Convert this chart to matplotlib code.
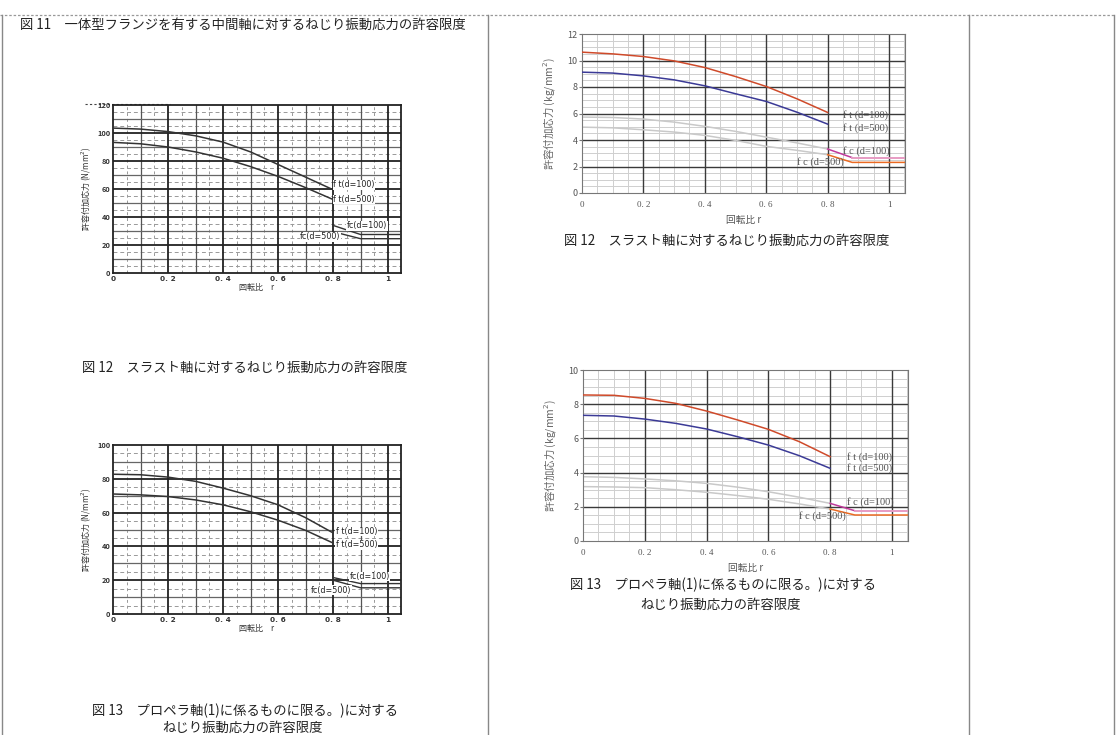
import numpy as np
import matplotlib.pyplot as plt

plt.rcParams['font.family'] = ['Noto Sans CJK JP', 'DejaVu Sans']

W, H = 1116, 735

# ---- data ----
r = [0, 0.1, 0.2, 0.3, 0.4, 0.5, 0.6, 0.7, 0.8]
r_tail_scan = [0.8, 0.9, 1.05]
r_tail = [0.8, 0.88, 1.05]

# left column, scanned 図11 (N/mm2)
s11_ft100 = [103.5, 102.8, 101, 98, 93.5, 86.5, 77.5, 68.5, 59.5]
s11_ft500 = [93.3, 92.3, 90, 86.5, 82, 76, 69, 61, 52.5]
s11_fc100 = [34, 27.5, 27.5]
s11_fc500 = [29.5, 24.5, 24.5]

# left column, scanned 図13 (N/mm2)
s13_ft100 = [82.7, 82.4, 81, 78.5, 74.5, 70, 64.6, 57, 48]
s13_ft500 = [71, 70.5, 69.5, 67.5, 64.6, 60.5, 55.5, 49.5, 42]
s13_fc100 = [21.6, 18, 18]
s13_fc500 = [20, 15.5, 15.5]

# right column, 図12 (kg/mm2)
r12_ft100 = [10.63, 10.5, 10.3, 9.97, 9.47, 8.79, 8.04, 7.11, 6.08]
r12_ft500 = [9.12, 9.05, 8.84, 8.54, 8.09, 7.49, 6.91, 6.10, 5.20]
r12_fc100 = [5.73, 5.7, 5.58, 5.35, 5.03, 4.65, 4.22, 3.78, 3.32]
r12_fc500 = [4.97, 4.92, 4.77, 4.6, 4.35, 3.97, 3.52, 3.22, 2.89]
r12_fc100_tail = [3.32, 2.67, 2.67]
r12_fc500_tail = [2.89, 2.31, 2.31]

# right column, 図13 (kg/mm2)
r13_ft100 = [8.54, 8.52, 8.34, 8.05, 7.6, 7.08, 6.53, 5.81, 4.93]
r13_ft500 = [7.35, 7.31, 7.13, 6.88, 6.55, 6.1, 5.61, 4.99, 4.25]
r13_fc100 = [3.76, 3.72, 3.63, 3.52, 3.37, 3.15, 2.88, 2.56, 2.2]
r13_fc500 = [3.18, 3.16, 3.12, 3.0, 2.85, 2.66, 2.44, 2.17, 1.87]
r13_fc100_tail = [2.2, 1.77, 1.77]
r13_fc500_tail = [1.87, 1.52, 1.52]

x_ticks = [0, 0.2, 0.4, 0.6, 0.8, 1.0]
x_ticklabels = ['0', '0. 2', '0. 4', '0. 6', '0. 8', '1']


def px_axes(fig, left, top, right, bottom):
    return fig.add_axes([left / W, (H - bottom) / H, (right - left) / W, (bottom - top) / H])


def scanned_chart(ax, ymax, ft100, ft500, fc100, fc500, labels_pos, ylabel):
    ax.set_xlim(0, 1.047)
    ax.set_ylim(0, ymax)
    # rough grid like the scan (heavier lines on top)
    for x in np.arange(0.05, 1.05, 0.05):
        k = int(round(x * 20))
        if k % 4 == 0:
            ax.axvline(x, color='#222', lw=1.3, zorder=1.6)
        elif k % 2 == 0:
            ax.axvline(x, color='#555', lw=0.9, zorder=1.3)
        else:
            ax.axvline(x, color='#999', lw=0.7, ls=(0, (3, 3)), zorder=1)
    for y in np.arange(5, ymax, 5):
        k = int(round(y / 5))
        if k % 4 == 0:
            ax.axhline(y, color='#222', lw=1.3, zorder=1.6)
        elif k % 2 == 0:
            ax.axhline(y, color='#666', lw=0.9, zorder=1.3)
        else:
            ax.axhline(y, color='#999', lw=0.7, ls=(0, (4, 3)), zorder=1)
    ax.plot(r, ft100, color='#333', lw=1.1, zorder=3)
    ax.plot(r, ft500, color='#333', lw=1.1, zorder=3)
    ax.plot(r_tail_scan, fc100, color='#333', lw=1.0, zorder=3)
    ax.plot(r_tail_scan, fc500, color='#333', lw=1.0, zorder=3)
    names = ['f t(d=100)', 'f t(d=500)', 'fc(d=100)', 'fc(d=500)']
    for name, (lx, ly) in zip(names, labels_pos):
        ax.text(lx, ly, name, fontsize=5.8, color='#222', fontfamily='DejaVu Sans',
                va='center', ha='left', zorder=4,
                bbox=dict(facecolor='white', edgecolor='none', pad=0.3))
    ax.set_xticks(x_ticks)
    ax.set_xticklabels(x_ticklabels, fontsize=5.3, fontweight='bold', color='#333',
                       fontfamily='DejaVu Sans')
    ax.set_yticks(np.arange(0, ymax + 1, 20))
    ax.tick_params(axis='y', labelsize=5.3, labelcolor='#333', length=0, pad=2)
    ax.tick_params(axis='x', length=0, pad=2)
    for lab in ax.get_yticklabels():
        lab.set_fontweight('bold')
    for s in ax.spines.values():
        s.set_color('#222')
        s.set_linewidth(1.3)
    ax.set_ylabel(ylabel, fontsize=5.8, color='#333', labelpad=3)
    ax.set_xlabel('回転比　r', fontsize=5.8, color='#333', labelpad=1)


def colour_chart(ax, ymax, ft100, ft500, fc100, fc500, fc100_tail, fc500_tail, labels_pos):
    ax.set_xlim(0, 1.052)
    ax.set_ylim(0, ymax)
    for x in np.arange(0.05, 1.06, 0.05):
        k = int(round(x * 20))
        if k % 4 == 0:
            ax.axvline(x, color='#3a3a3a', lw=1.0, zorder=1.5)
        else:
            ax.axvline(x, color='#cfcfcf', lw=0.7, zorder=1)
    for y in np.arange(0.5, ymax, 0.5):
        if abs(y / 2 - round(y / 2)) < 1e-6:
            ax.axhline(y, color='#3a3a3a', lw=1.0, zorder=1.5)
        else:
            ax.axhline(y, color='#cfcfcf', lw=0.7, zorder=1)
    ax.plot(r, ft100, color='#cf4a2a', lw=1.1, zorder=3)
    ax.plot(r, ft500, color='#3b3a96', lw=1.1, zorder=3)
    ax.plot(r, fc100, color='#c9c9c9', lw=1.1, zorder=2)
    ax.plot(r, fc500, color='#c9c9c9', lw=1.1, zorder=2)
    ax.plot(r_tail[:2], fc100_tail[:2], color='#c0399b', lw=1.1, zorder=3)
    ax.plot(r_tail[1:], fc100_tail[1:], color='#e79bc3', lw=1.4, zorder=3)
    ax.plot(r_tail, fc500_tail, color='#ea6a22', lw=1.1, zorder=3)
    names = ['f t (d=100)', 'f t (d=500)', 'f c (d=100)', 'f c (d=500)']
    for name, (lx, ly) in zip(names, labels_pos):
        ax.text(lx, ly, name, fontsize=7.5, color='#555', fontfamily='Liberation Serif',
                va='center', ha='left', zorder=4)
    ax.set_xticks(x_ticks)
    ax.set_xticklabels(x_ticklabels, fontsize=6.5, color='#555', fontfamily='Liberation Serif')
    ax.set_yticks(np.arange(0, ymax + 1, 2))
    ax.tick_params(axis='y', labelsize=6.5, labelcolor='#555', length=2, pad=1, color='#777')
    ax.tick_params(axis='x', length=0, pad=6)
    for s in ax.spines.values():
        s.set_color('#777')
        s.set_linewidth(0.8)
    ax.set_ylabel('許容付加応力 (kg/mm$^2$)', fontsize=7.5, color='#666', labelpad=8)
    ax.set_xlabel('回転比 r', fontsize=7, color='#555', labelpad=4)


fig = plt.figure(figsize=(W / 100, H / 100), dpi=100)

# background in pixel coordinates: table frame and captions
bg = fig.add_axes([0, 0, 1, 1])
bg.set_xlim(0, W)
bg.set_ylim(H, 0)
bg.axis('off')
bg.plot([0, W], [15, 15], color='#999', lw=0.9, ls=(0, (2, 1.5)))
for xv in [2, 488, 969, 1114]:
    bg.plot([xv, xv], [15, H], color='#888', lw=1.0)
bg.plot([85, 170], [104, 104], color='#444', lw=0.8, ls=(0, (2, 2)))

cap = dict(fontsize=9.6, color='#222', va='center')
bg.text(20, 25, '図 11　一体型フランジを有する中間軸に対するねじり振動応力の許容限度',
        ha='left', **cap)
bg.text(245, 368, '図 12　スラスト軸に対するねじり振動応力の許容限度', ha='center', **cap)
bg.text(245, 711, '図 13　プロペラ軸(1)に係るものに限る。)に対する', ha='center', **cap)
bg.text(243, 728, 'ねじり振動応力の許容限度', ha='center', **cap)
bg.text(727, 241, '図 12　スラスト軸に対するねじり振動応力の許容限度', ha='center', **cap)
bg.text(723, 585, '図 13　プロペラ軸(1)に係るものに限る。)に対する', ha='center', **cap)
bg.text(721, 605, 'ねじり振動応力の許容限度', ha='center', **cap)

# left: scanned charts
ax1 = px_axes(fig, 113, 105, 401, 273)
scanned_chart(ax1, 120, s11_ft100, s11_ft500, s11_fc100, s11_fc500,
              [(0.8, 63), (0.8, 52.5), (0.85, 33.8), (0.68, 25.8)],
              '許容付加応力 (N/mm$^2$)')

ax2 = px_axes(fig, 113, 445, 401, 614)
scanned_chart(ax2, 100, s13_ft100, s13_ft500, s13_fc100, s13_fc500,
              [(0.81, 48.8), (0.81, 41), (0.86, 22.2), (0.72, 14)],
              '許容付加応力 (N/mm$^2$)')

# right: redrawn colour charts
ax3 = px_axes(fig, 582, 34, 905, 193)
colour_chart(ax3, 12, r12_ft100, r12_ft500, r12_fc100, r12_fc500,
             r12_fc100_tail, r12_fc500_tail,
             [(0.85, 5.9), (0.85, 4.9), (0.85, 3.17), (0.70, 2.34)])

ax4 = px_axes(fig, 583, 370, 908, 541)
colour_chart(ax4, 10, r13_ft100, r13_ft500, r13_fc100, r13_fc500,
             r13_fc100_tail, r13_fc500_tail,
             [(0.855, 4.91), (0.855, 4.27), (0.855, 2.28), (0.70, 1.46)])

fig.savefig('out.png', dpi=100)
